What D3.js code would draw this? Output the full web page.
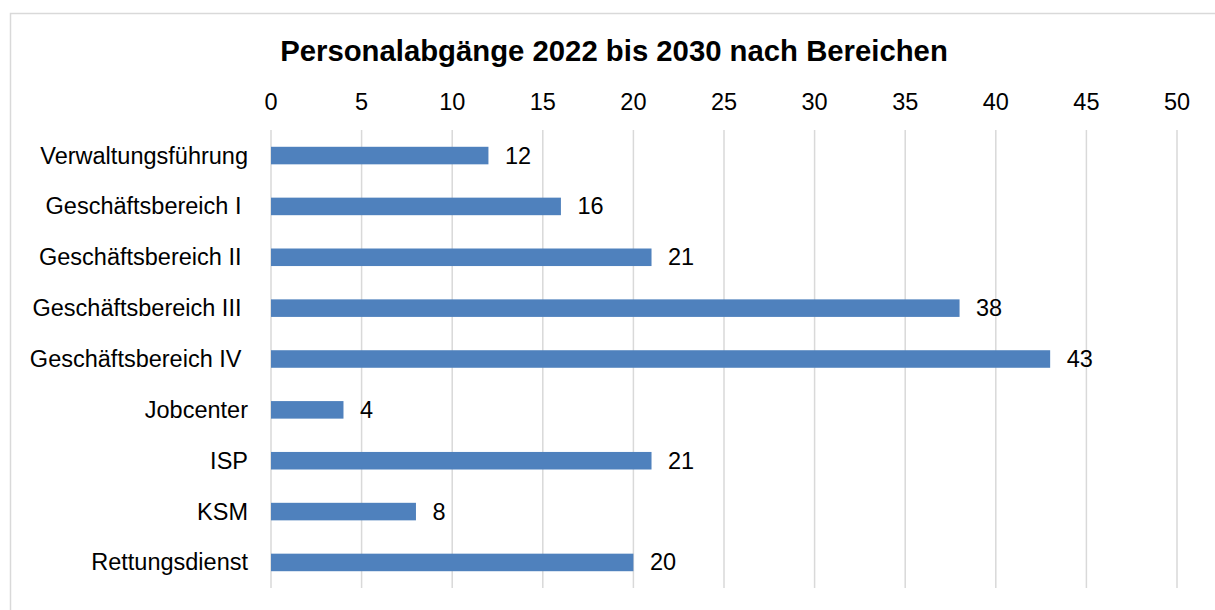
<!DOCTYPE html>
<html lang="de">
<head>
<meta charset="UTF-8">
<title>Personalabgänge</title>
<script src="https://d3js.org/d3.v7.min.js"></script>
<style>
    body { margin: 0; background: #fff; }
    svg text { font-family: "Liberation Sans", Arial, sans-serif; fill: #000; white-space: pre; }
</style>
</head>
<body>
<svg id="chart" width="1215" height="610"></svg>
<script>
    // labels as in the source sheet (the Geschäftsbereich ones carry a trailing blank)
    const categories = ["Verwaltungsführung", "Geschäftsbereich I ", "Geschäftsbereich II ",
        "Geschäftsbereich III ", "Geschäftsbereich IV ", "Jobcenter", "ISP", "KSM", "Rettungsdienst"];
    const values = [12, 16, 21, 38, 43, 4, 21, 8, 20];
    const ticks = [0, 5, 10, 15, 20, 25, 30, 35, 40, 45, 50];
    const title = "Personalabgänge 2022 bis 2030 nach Bereichen";

    const svg = d3.select("#chart");
    const fs = 23.5;

    // chart frame
    svg.append("rect")
        .attr("x", 10.5).attr("y", 13.5)
        .attr("width", 1215).attr("height", 610)
        .attr("fill", "none").attr("stroke", "#d9d9d9").attr("stroke-width", 1.5);

    const x = d3.scaleLinear().domain([0, 50]).range([271, 1177]);
    const y = d3.scaleBand().domain(categories).range([130, 588]).paddingInner(0.655).paddingOuter(0.33);

    // gridlines
    svg.append("g").selectAll("line")
        .data(ticks)
        .join("line")
        .attr("x1", d => x(d)).attr("x2", d => x(d))
        .attr("y1", 130).attr("y2", 588)
        .attr("stroke", "#d9d9d9").attr("stroke-width", 1.5);

    // tick labels on top
    svg.append("g").selectAll("text")
        .data(ticks)
        .join("text")
        .attr("x", d => x(d)).attr("y", 109.5)
        .attr("text-anchor", "middle")
        .attr("font-size", fs)
        .text(d => d);

    // bars
    svg.append("g").selectAll("rect")
        .data(values)
        .join("rect")
        .attr("x", x(0))
        .attr("y", (d, i) => y(categories[i]))
        .attr("width", d => x(d) - x(0))
        .attr("height", y.bandwidth())
        .attr("fill", "#4f81bd");

    // value labels
    svg.append("g").selectAll("text")
        .data(values)
        .join("text")
        .attr("x", d => x(d) + 16.5)
        .attr("y", (d, i) => y(categories[i]) + y.bandwidth() / 2 + 8)
        .attr("font-size", fs)
        .text(d => d);

    // category labels
    svg.append("g").selectAll("text")
        .data(categories)
        .join("text")
        .attr("x", 248)
        .attr("y", d => y(d) + y.bandwidth() / 2 + 8)
        .attr("text-anchor", "end")
        .attr("font-size", fs)
        .text(d => d);

    svg.append("text")
        .attr("x", 614).attr("y", 61)
        .attr("text-anchor", "middle")
        .attr("font-size", 29.3)
        .attr("font-weight", "bold")
        .text(title);
</script>
</body>
</html>
